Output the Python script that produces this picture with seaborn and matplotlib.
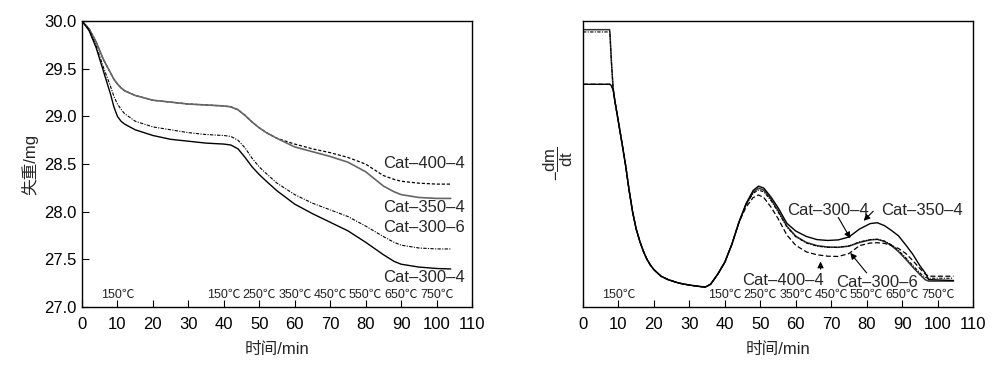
import numpy as np
import pandas as pd
import matplotlib
matplotlib.use("Agg")
import matplotlib.pyplot as plt
import seaborn as sns

# TG curves (left), mass in mg vs time in min
tg_time = [0, 2, 4, 6, 8, 9, 10, 11, 12, 15, 20, 25, 30, 35, 40, 42, 44, 46, 48, 50, 52, 55,
           60, 65, 70, 75, 80, 85, 88, 90, 95, 100, 104]
tg_400_4 = [30.0, 29.92, 29.78, 29.60, 29.46, 29.39, 29.34, 29.30, 29.27, 29.22, 29.17, 29.15,
            29.13, 29.12, 29.11, 29.10, 29.07, 29.01, 28.94, 28.88, 28.83, 28.77, 28.71, 28.66,
            28.62, 28.57, 28.50, 28.38, 28.34, 28.32, 28.30, 28.29, 28.29]
tg_350_4 = [30.0, 29.92, 29.78, 29.60, 29.46, 29.39, 29.34, 29.30, 29.27, 29.22, 29.17, 29.15,
            29.13, 29.12, 29.11, 29.10, 29.07, 29.01, 28.94, 28.88, 28.83, 28.77, 28.68, 28.63,
            28.58, 28.52, 28.42, 28.27, 28.21, 28.18, 28.15, 28.14, 28.14]
tg_300_6 = [30.0, 29.91, 29.74, 29.52, 29.32, 29.21, 29.13, 29.075, 29.03, 28.95, 28.89, 28.86,
            28.83, 28.81, 28.80, 28.79, 28.75, 28.67, 28.56, 28.47, 28.40, 28.30, 28.18, 28.09,
            28.02, 27.95, 27.85, 27.74, 27.68, 27.65, 27.62, 27.61, 27.61]
tg_300_4 = [30.0, 29.90, 29.72, 29.48, 29.24, 29.10, 29.00, 28.95, 28.92, 28.86, 28.80, 28.76,
            28.74, 28.72, 28.71, 28.70, 28.66, 28.57, 28.47, 28.39, 28.32, 28.22, 28.08, 27.98,
            27.89, 27.80, 27.68, 27.55, 27.48, 27.45, 27.42, 27.405, 27.40]

# DTG curves (right), arbitrary units
dtg_time = [0, 7.5, 7.6, 8.0, 8.5, 9, 10, 11, 12, 13, 14, 15, 16, 17, 18, 19, 20, 22, 24, 27,
            30, 33, 34.5, 36, 38, 40, 42, 44, 46, 48, 49.5, 51, 53, 55, 57.5, 60, 63, 66, 69,
            72, 75, 78, 81, 83, 85, 87, 89, 91, 93, 95, 96.5, 97.5, 104.5]
dtg_head_hi = [97.0, 97.0, 96.0, 86.0, 76.5]
dtg_head_hi6 = [96.2, 96.2, 95.5, 86.0, 76.5]
dtg_head_lo = [77.9, 77.9, 77.9, 77.4, 76.0]
dtg_common = [72.0, 64.7, 57.3, 49.7, 40.9, 33.2, 27.3, 23.1, 19.6, 16.8, 14.7, 13.1, 10.8, 9.6,
              8.4, 7.7, 7.2, 7.0, 8.0, 11.5, 15.7, 22.0, 29.7]
dtg_tail_350_4 = [36.2, 40.8, 42.3, 41.6, 38.5, 34.8, 29.3, 26.6, 24.7, 23.6, 23.3, 23.5, 24.5,
                  27.3, 29.2, 29.5, 28.5, 26.8, 24.9, 21.8, 18.5, 14.5, 12.0, 9.6, 9.3]
dtg_tail_300_4 = [36.0, 40.2, 41.6, 40.9, 37.8, 33.8, 28.3, 24.8, 22.6, 21.5, 21.0, 20.9, 21.3,
                  22.6, 23.5, 23.7, 23.0, 21.5, 19.4, 16.8, 14.0, 11.4, 9.6, 9.1, 9.1]
dtg_tail_300_6 = [35.8, 39.8, 40.9, 40.3, 37.3, 33.3, 28.0, 24.6, 22.4, 21.3, 20.9, 20.9, 21.4,
                  22.8, 23.6, 23.7, 23.1, 21.8, 19.8, 17.3, 14.6, 12.0, 10.4, 10.1, 10.1]
dtg_tail_400_4 = [35.0, 38.3, 39.2, 38.3, 35.0, 31.0, 25.2, 21.6, 19.3, 18.3, 17.8, 17.7, 18.7,
                  21.5, 22.4, 22.5, 22.3, 21.5, 20.5, 18.8, 16.3, 13.5, 11.6, 10.8, 10.8]

temp_pos = [10, 40, 50, 60, 70, 80, 90, 100]
temp_labels = ["150℃", "150℃", "250℃", "350℃", "450℃", "550℃", "650℃", "750℃"]

sns.set_style("ticks")
plt.rcParams["font.family"] = ["Liberation Sans", "Noto Sans CJK SC"]
plt.rcParams["mathtext.fontset"] = "custom"
plt.rcParams["mathtext.rm"] = "Liberation Sans"
plt.rcParams["mathtext.it"] = "Liberation Sans"
plt.rcParams["xtick.direction"] = "in"
plt.rcParams["ytick.direction"] = "in"

fig = plt.figure(figsize=(10, 3.7), dpi=100)
ax1 = fig.add_axes([0.082, 0.170, 0.390, 0.773])
ax2 = fig.add_axes([0.583, 0.170, 0.390, 0.773])

fs = 12
sns.lineplot(x=tg_time, y=tg_400_4, ax=ax1, color="black", linewidth=0.9, linestyle=(0, (2.5, 1.5)))
sns.lineplot(x=tg_time, y=tg_350_4, ax=ax1, color="#666666", linewidth=1.2)
sns.lineplot(x=tg_time, y=tg_300_6, ax=ax1, color="black", linewidth=0.8, linestyle=(0, (3, 1.2, 1, 1.2)))
sns.lineplot(x=tg_time, y=tg_300_4, ax=ax1, color="black", linewidth=1.0)

ax1.set_xlim(0, 110)
ax1.set_ylim(27.0, 30.0)
ax1.set_xticks(np.arange(0, 111, 10))
ax1.set_yticks(np.arange(27.0, 30.01, 0.5))
ax1.yaxis.set_major_formatter(matplotlib.ticker.FormatStrFormatter("%.1f"))
ax1.set_xlabel("时间/min", fontsize=fs, labelpad=7)
ax1.set_ylabel("失重/mg", fontsize=fs, labelpad=4)

for name, yy in [("Cat–400–4", 28.51), ("Cat–350–4", 28.04), ("Cat–300–6", 27.83), ("Cat–300–4", 27.31)]:
    ax1.text(108, yy, name, ha="right", va="center", fontsize=fs)

dtg_series = [
    (dtg_head_hi + dtg_common + dtg_tail_300_4, "#333333", 1.1, "-"),
    (dtg_head_hi6 + dtg_common + dtg_tail_300_6, "black", 0.8, (0, (3, 1.2, 1, 1.2))),
    (dtg_head_lo + dtg_common + dtg_tail_350_4, "black", 1.0, "-"),
    (dtg_head_lo + dtg_common + dtg_tail_400_4, "black", 0.9, (0, (4, 2))),
]
for yy, col, w, ls in dtg_series:
    sns.lineplot(x=dtg_time, y=yy, ax=ax2, color=col, linewidth=w, linestyle=ls)

ax2.set_xlim(0, 110)
ax2.set_ylim(0, 100)
ax2.set_xticks(np.arange(0, 111, 10))
ax2.set_yticks([])
ax2.set_xlabel("时间/min", fontsize=fs, labelpad=7)
ax2.set_ylabel(r"$-\dfrac{\rm dm}{\rm dt}$", fontsize=12, labelpad=6)

arrow = dict(arrowstyle="-|>", color="black", lw=0.8, mutation_scale=9)
ax2.annotate("", xy=(75.8, 23.2), xytext=(71.6, 32.2), arrowprops=arrow)
ax2.text(69.1, 33.9, "Cat–300–4", ha="center", va="center", fontsize=fs)
ax2.annotate("", xy=(78.6, 29.5), xytext=(82.4, 34.2), arrowprops=arrow)
ax2.text(95.5, 33.7, "Cat–350–4", ha="center", va="center", fontsize=fs)
ax2.annotate("", xy=(67.0, 16.9), xytext=(67.0, 12.3), arrowprops=arrow)
ax2.text(56.5, 9.4, "Cat–400–4", ha="center", va="center", fontsize=fs)
ax2.annotate("", xy=(74.9, 19.7), xytext=(80.5, 11.2), arrowprops=arrow)
ax2.text(82.8, 8.5, "Cat–300–6", ha="center", va="center", fontsize=fs)

for ax in (ax1, ax2):
    for s in ax.spines.values():
        s.set_linewidth(1.0)
        s.set_color("black")
    ax.tick_params(axis="both", labelsize=fs, length=5, width=0.8, pad=7, colors="black")
    ax.tick_params(axis="y", pad=4)
    tr = matplotlib.transforms.blended_transform_factory(ax.transData, ax.transAxes)
    for xp, lab in zip(temp_pos, temp_labels):
        ax.text(xp, 0.042, lab, transform=tr, ha="center", va="center", fontsize=9, color="#222222")

fig.savefig("out.png", dpi=100)
